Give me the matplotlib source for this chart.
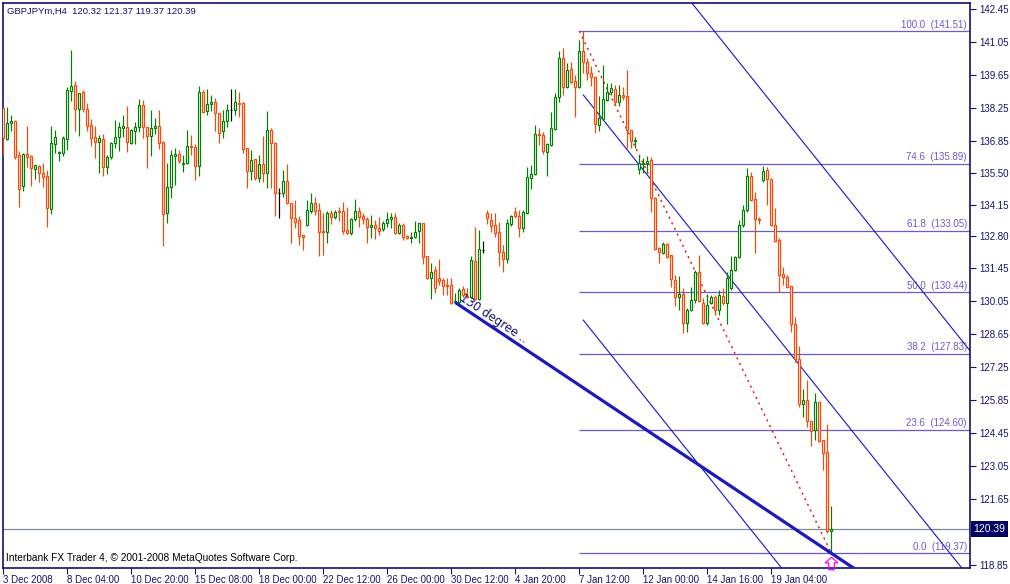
import matplotlib
matplotlib.use("Agg")
import matplotlib.pyplot as plt
from matplotlib.patches import Rectangle
from matplotlib.path import Path
import numpy as np

plt.rcParams['font.family'] = ['Liberation Sans', 'DejaVu Sans']

# ---------------- data (GBPJPYm H4) ----------------
opens = [138.24,136.93,137.61,137.70,136.25,134.94,136.29,136.21,135.66,135.79,
 135.49,135.36,133.96,136.72,136.34,136.34,136.93,138.97,139.22,138.20,
 138.92,138.20,137.53,137.02,136.80,136.93,135.74,136.17,136.76,137.02,
 137.40,137.44,136.76,137.27,137.44,138.37,137.44,137.06,137.40,137.48,
 136.80,133.79,134.89,136.21,136.29,135.87,135.91,136.63,136.59,135.79,
 138.92,138.12,138.42,138.50,138.03,137.27,137.70,138.16,138.16,138.46,
 138.46,136.55,135.57,136.08,135.28,135.87,135.49,137.31,136.76,134.64,
 134.65,135.15,134.22,133.58,133.50,132.86,133.28,133.88,134.22,133.92,
 133.03,132.99,133.79,133.62,133.88,133.88,133.07,132.94,133.54,133.88,
 133.66,133.54,133.20,133.28,133.16,133.11,133.37,133.54,133.62,132.94,
 133.28,132.82,132.73,132.77,133.03,133.37,131.97,131.03,131.37,131.03,
 130.95,130.74,130.74,130.02,130.02,130.57,130.27,130.23,131.76,130.14,
 132.22,133.79,133.50,133.28,132.99,132.14,131.84,133.33,133.83,133.66,
 133.16,133.79,135.28,135.45,137.14,137.10,136.38,136.68,137.35,138.71,
 140.37,139.14,139.90,139.39,139.14,140.66,140.20,139.73,139.56,137.53,
 137.78,138.58,138.92,139.05,138.50,138.80,138.75,137.31,136.85,135.66,
 135.87,135.91,136.04,134.43,132.31,132.10,132.48,132.01,130.95,130.23,
 130.36,129.12,129.68,130.10,131.29,129.98,129.12,129.98,130.23,129.68,
 130.27,129.98,130.61,131.37,131.93,133.28,133.92,135.36,134.39,133.54,
 135.19,135.62,135.23,133.28,132.65,131.20,131.07,130.70,129.08,127.60,
 125.69,125.86,124.97,124.59,125.77,124.16,123.66,120.32]

highs = [138.33,138.28,137.95,137.74,136.42,136.34,137.48,136.25,135.83,135.83,
 135.91,135.62,137.48,137.31,136.42,137.06,139.14,140.70,139.39,138.88,
 139.01,138.46,137.78,137.48,137.10,137.14,136.25,136.80,137.74,137.65,
 137.95,138.33,137.35,137.65,138.63,138.58,137.44,138.16,137.82,138.16,
 136.85,135.91,136.46,136.55,136.46,136.25,137.31,137.10,136.72,139.18,
 139.01,139.05,138.80,138.67,138.03,138.16,138.42,139.05,139.05,138.92,
 138.50,136.55,136.46,136.08,136.25,137.06,138.12,137.40,136.80,134.85,
 135.62,135.87,134.22,134.34,133.66,132.86,134.34,134.64,134.47,134.22,
 133.79,133.88,133.92,133.92,134.04,134.26,134.04,133.58,134.39,134.04,
 133.79,133.62,133.71,133.50,133.62,133.45,133.83,133.79,133.79,133.37,
 133.37,132.86,132.99,133.45,133.37,133.37,131.97,131.67,131.54,131.84,
 131.03,131.03,131.03,130.40,130.61,130.70,130.61,131.97,133.20,133.07,
 132.60,133.92,133.79,133.79,133.41,132.43,133.54,133.71,134.04,133.92,
 133.92,135.74,135.83,137.53,137.40,137.23,136.76,138.07,138.88,140.66,
 140.79,140.15,140.20,139.64,141.13,141.51,140.37,140.03,139.56,138.75,
 140.07,139.30,139.30,139.22,139.22,139.14,139.86,137.31,137.02,136.25,
 136.12,136.21,136.17,134.47,132.35,132.56,132.52,132.01,131.16,131.12,
 130.61,129.76,130.65,131.37,132.01,130.19,130.36,130.31,130.31,130.53,
 130.61,131.29,131.97,131.97,133.50,134.13,135.70,135.53,134.68,133.62,
 135.78,135.74,135.28,134.00,132.73,131.50,131.16,130.70,129.38,128.15,
 126.33,126.71,124.97,126.16,125.77,124.16,124.84,121.37]

lows = [136.25,136.89,137.27,136.08,134.04,134.72,135.74,134.94,135.23,135.11,
 134.89,133.20,133.75,136.34,136.00,136.21,136.46,138.54,137.27,137.06,
 138.07,137.27,136.63,136.12,135.49,135.36,135.45,136.08,136.55,136.42,
 137.02,136.38,136.72,136.72,137.23,136.97,135.70,136.21,137.14,136.51,
 132.39,133.37,134.43,134.98,135.91,135.53,135.87,136.25,135.19,135.36,
 138.03,137.95,138.12,137.27,136.76,136.97,137.44,137.70,137.95,137.86,
 136.34,134.85,135.19,135.19,135.11,135.11,134.85,134.85,133.66,133.58,
 134.47,134.17,132.52,133.16,132.43,132.22,133.24,133.79,133.71,131.97,
 132.01,132.52,133.33,133.54,133.45,132.90,132.90,132.86,133.45,133.20,
 133.33,132.52,132.73,132.69,132.86,133.03,133.20,133.16,132.90,132.90,
 132.65,132.69,132.52,132.73,132.52,131.63,130.99,130.14,130.40,130.74,
 130.31,130.31,129.93,129.98,129.98,130.23,130.19,130.19,130.10,130.10,
 132.10,133.33,132.99,132.77,131.54,131.29,131.67,133.24,133.58,132.77,
 132.99,133.75,134.81,135.40,136.68,136.29,135.36,136.63,137.31,138.50,
 138.80,139.09,139.30,137.86,139.09,139.73,139.43,139.18,137.19,137.27,
 137.74,138.54,138.80,138.37,138.33,138.58,136.55,136.55,136.55,135.45,
 135.49,135.53,133.83,132.22,131.67,132.05,131.88,130.65,129.85,129.68,
 128.70,128.75,129.63,129.98,130.02,129.08,129.04,129.93,129.46,129.46,
 129.89,129.08,130.53,131.33,131.88,133.20,133.83,134.30,132.10,133.33,
 135.11,134.13,133.24,132.56,130.44,130.74,130.61,128.75,127.47,125.56,
 125.14,124.72,123.91,124.16,124.08,122.89,120.22,119.37]

closes = [136.97,137.61,137.70,136.17,134.81,136.29,136.17,135.70,135.83,135.49,
 135.32,134.00,136.76,137.02,136.38,136.97,139.01,139.18,138.20,138.88,
 138.20,137.48,136.97,136.80,136.97,135.74,136.17,136.76,137.02,137.44,
 137.48,136.80,137.31,137.44,138.37,137.44,137.06,137.40,137.48,136.76,
 133.75,134.89,136.25,136.29,136.00,135.91,136.63,136.59,135.79,138.92,
 138.07,138.42,138.50,138.03,137.19,137.70,138.16,138.16,138.50,138.42,
 136.51,135.57,136.04,135.28,135.87,135.49,137.31,136.76,134.64,134.64,
 135.15,134.22,133.58,133.41,132.82,132.77,133.92,134.22,133.88,132.99,
 132.99,133.79,133.62,133.83,133.83,133.03,132.94,133.54,133.88,133.62,
 133.54,133.20,133.28,133.16,133.03,133.37,133.54,133.62,132.94,133.28,
 132.77,132.73,132.77,132.99,133.37,131.93,131.03,131.29,130.61,130.91,
 130.70,130.72,129.98,130.06,130.53,130.31,130.23,131.80,130.14,132.27,
 132.22,133.58,133.24,132.94,132.14,131.84,133.37,133.66,133.66,133.16,
 133.83,135.32,135.45,137.14,137.10,136.42,136.72,137.40,138.71,140.37,
 139.14,139.86,139.35,139.14,140.66,140.20,139.73,139.56,137.57,137.82,
 138.63,138.92,139.09,138.50,138.80,138.71,137.31,136.85,136.89,135.91,
 135.91,136.00,134.43,132.27,132.14,132.48,131.93,130.99,130.23,130.36,
 129.12,129.68,130.10,131.29,130.06,129.12,129.89,130.23,129.68,130.31,
 129.98,131.03,131.37,131.93,133.28,133.92,135.36,134.34,133.54,133.50,
 135.57,135.23,133.28,132.60,131.16,131.07,130.65,129.08,127.60,125.69,
 125.86,124.97,124.55,125.77,124.12,123.61,120.31,120.39]

date_ticks = [0, 16, 32, 48, 64, 80, 96, 112, 128, 144, 160, 176, 192]
date_labels = ["3 Dec 2008", "8 Dec 04:00", "10 Dec 20:00", "15 Dec 08:00",
               "18 Dec 00:00", "22 Dec 12:00", "26 Dec 00:00", "30 Dec 12:00",
               "4 Jan 20:00", "7 Jan 12:00", "12 Jan 00:00", "14 Jan 16:00",
               "19 Jan 04:00"]
price_ticks = [142.45, 141.05, 139.65, 138.25, 136.85, 135.50, 134.15, 132.80,
               131.45, 130.05, 128.65, 127.25, 125.85, 124.45, 123.05, 121.65,
               118.85]

fib_ratios = ["100.0", "74.6", "61.8", "50.0", "38.2", "23.6", "0.0"]
fib_prices = [141.51, 135.89, 133.05, 130.44, 127.83, 124.60, 119.37]
fib_start_bar = 144

bid_price = 120.39
title_text = "GBPJPYm,H4  120.32 121.37 119.37 120.39"
footer_text = "Interbank FX Trader 4, \u00a9 2001-2008 MetaQuotes Software Corp."

# red dotted fib baseline
fib_line_bars = [144, 207]
fib_line_prices = [141.51, 119.37]

# "130 degree" trend line anchors
trend_bars = [113, 225]
trend_prices = [130.00, 117.33]

# parallel channel (start bar, prices at start, slope per bar)
chan_start = 145
chan_prices = [148.45, 138.80, 129.25]
chan_slope = -0.212
chan_end = 260

# signal arrow under the last bar
arrow_bar = 207
arrow_price = 118.95

# ---------------- drawing ----------------
NAVY = '#12126e'
GREEN = '#008000'
ORANGE = '#ff4500'
FIBC = '#6a5acd'

W, H = 1010, 584
fig = plt.figure(figsize=(W / 100, H / 100), dpi=100)
fig.patch.set_facecolor('white')
ax = fig.add_axes([3 / W, 16 / H, 967 / W, 565 / H])
ax.set_facecolor('white')

o = np.array(opens); h = np.array(highs); l = np.array(lows); c = np.array(closes)
x = np.arange(len(o))
cols = np.where(c > o, GREEN, np.where(c < o, ORANGE, 'black'))

ax.vlines(x, l, h, colors=cols, linewidth=0.85, zorder=3)
bottoms = np.minimum(o, c)
heights = np.abs(c - o)
ax.bar(x, heights, bottom=bottoms, width=0.5, facecolor='white',
       edgecolor=cols, linewidth=0.85, zorder=4)

# bid line
ax.axhline(bid_price, color='#7b8a99', linewidth=0.9, zorder=2)

xmax = (970 - 3.3) / 4
# fib levels
ax.hlines(fib_prices, fib_start_bar, xmax, colors=FIBC, linewidth=0.9, zorder=2)
for r, p in zip(fib_ratios, fib_prices):
    ax.annotate(f"{r}  ({p:.2f})", xy=(xmax, p), xytext=(-3, 1.5),
                textcoords='offset pixels', ha='right', va='bottom',
                fontsize=7, color=FIBC, zorder=5)

# red dotted line
ax.plot(fib_line_bars, fib_line_prices, color='red', linewidth=1.0,
        linestyle=(0, (1.5, 3)), zorder=2)

# channel lines
for cp in chan_prices:
    ax.plot([chan_start, chan_end], [cp, cp + chan_slope * (chan_end - chan_start)],
            color='#1515d0', linewidth=0.8, zorder=2)

# thick trend line
ax.plot(trend_bars, trend_prices, color='#1a1ac0', linewidth=2.3, zorder=5,
        solid_capstyle='butt')
ax.annotate("130 degree ..", xy=(trend_bars[0], trend_prices[0]), xytext=(2, 0),
            textcoords='offset pixels', rotation=-33.7, rotation_mode='anchor',
            ha='left', va='bottom', fontsize=8.5, color=NAVY,
            family='DejaVu Sans', zorder=6)

# hollow up arrow marker
arrow_path = Path([(0, 1), (-1, 0.1), (-0.45, 0.1), (-0.45, -1), (0.45, -1),
                   (0.45, 0.1), (1, 0.1), (0, 1)],
                  [Path.MOVETO] + [Path.LINETO] * 6 + [Path.CLOSEPOLY])
ax.plot([arrow_bar], [arrow_price], marker=arrow_path, markersize=9,
        markerfacecolor='none', markeredgecolor='#ff00ff', markeredgewidth=0.9,
        linestyle='none', zorder=6, clip_on=False)

ax.set_xlim(-0.075, xmax)
ax.set_ylim(118.74, 142.70)

for s in ax.spines.values():
    s.set_color(NAVY)
    s.set_linewidth(1.2)

ax.yaxis.tick_right()
ax.set_yticks(price_ticks)
ax.set_yticklabels([f"{p:.2f}" for p in price_ticks])
ax.tick_params(axis='y', direction='out', length=4, width=0.8, color=NAVY,
               labelsize=7, labelcolor=NAVY, pad=3)
ax.set_xticks(date_ticks)
ax.set_xticklabels(date_labels)
ax.tick_params(axis='x', direction='out', length=4, width=0.8, color=NAVY,
               labelsize=7, labelcolor=NAVY, pad=1)
for t in ax.get_xticklabels():
    t.set_ha('left')

# title and footer
fig.text(7 / W, 1 - 11 / H, title_text, ha='left', va='center', fontsize=6.8,
         color=NAVY)
fig.text(6 / W, 1 - 558 / H, footer_text, ha='left', va='center', fontsize=7.3,
         color='black')

# bid price box on the axis
fig.patches.append(Rectangle((971 / W, 1 - 537 / H), 37 / W, 16 / H,
                             transform=fig.transFigure, facecolor='#000060',
                             edgecolor='none', zorder=10))
fig.text(989.5 / W, 1 - 529 / H, f"{bid_price:.2f}", ha='center', va='center',
         fontsize=7.5, color='white', zorder=11)

fig.savefig("out.png", dpi=100, facecolor='white')
